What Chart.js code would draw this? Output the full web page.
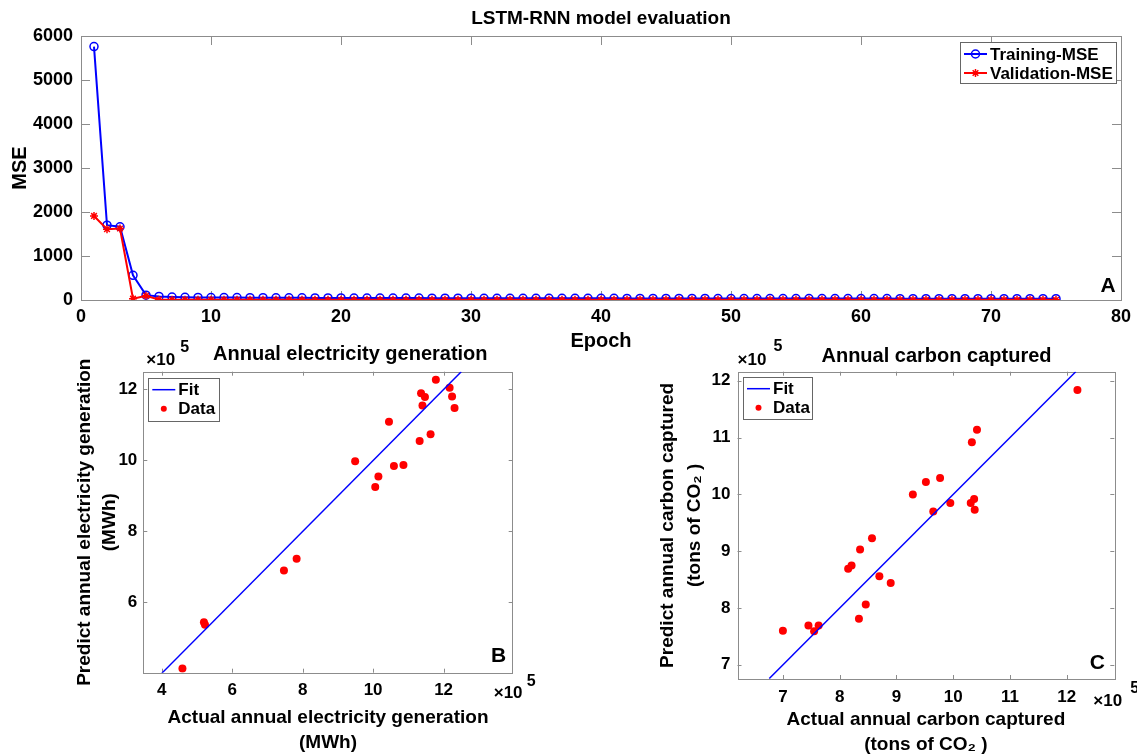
<!DOCTYPE html>
<html>
<head>
<meta charset="utf-8">
<title>LSTM-RNN model evaluation</title>
<script src="https://cdn.jsdelivr.net/npm/chart.js@4.4.1/dist/chart.umd.min.js"></script>
<style>
    body { margin: 0; background: #fff; overflow: hidden; }
    #wrap { position: relative; width: 1137px; height: 755px; }
    .panel { position: absolute; }
</style>
</head>
<body>
<div id="wrap">
    <div class="panel" style="left:0;top:0"><canvas id="lossChart" width="1137" height="360"></canvas></div>
    <div class="panel" style="left:40px;top:335px"><canvas id="elecChart" width="530" height="420"></canvas></div>
    <div class="panel" style="left:640px;top:335px"><canvas id="carbonChart" width="497" height="420"></canvas></div>
</div>
<script>
// panel A - loss per epoch
const trainMSE = [5760, 1700, 1665, 560, 110, 80, 68, 62, 59, 57, 55, 54, 53, 52, 51, 50, 49, 48, 47, 46,
    45, 45, 44, 44, 43, 43, 42, 42, 41, 41, 40, 40, 39, 39, 39, 38, 38, 38, 37, 37,
    37, 36, 36, 36, 35, 35, 35, 35, 34, 34, 34, 34, 33, 33, 33, 33, 33, 32, 32, 32,
    32, 32, 31, 31, 31, 31, 31, 30, 30, 30, 30, 30, 30, 29, 29];
const validMSE = [1910, 1610, 1625, 30, 95, 8, 6, 6, 5, 5, 5, 5, 5, 5, 5, 4, 4, 4, 4, 4,
    4, 4, 4, 4, 4, 4, 4, 4, 4, 4, 4, 4, 4, 4, 4, 4, 4, 4, 4, 4,
    4, 4, 4, 4, 4, 3, 3, 3, 3, 3, 3, 3, 3, 3, 3, 3, 3, 3, 3, 3,
    3, 3, 3, 3, 3, 3, 3, 3, 3, 3, 3, 3, 3, 3, 3];
const epochs = trainMSE.map((v, i) => i + 1);

// panel B - electricity (x10^5 MWh)
const elecActual = [4.59, 5.20, 5.23, 7.47, 7.83, 9.49, 10.06, 10.15, 10.45, 10.59, 10.86, 11.32, 11.40, 11.36, 11.47, 11.63, 11.78, 12.17, 12.24, 12.31];
const elecPredict = [4.14, 5.44, 5.37, 6.90, 7.23, 9.98, 9.25, 9.55, 11.09, 9.84, 9.87, 10.55, 11.55, 11.89, 11.79, 10.74, 12.27, 12.05, 11.80, 11.48];
const elecFitX = [4.0, 12.5];
const elecFitY = [4.0, 12.5];

// panel C - carbon (x10^5 tons CO2)
const carbonActual = [7.00, 7.45, 7.55, 7.63, 8.15, 8.21, 8.34, 8.36, 8.46, 8.57, 8.70, 8.90, 9.29, 9.52, 9.65, 9.77, 9.95, 10.31, 10.33, 10.37, 10.38, 10.42, 12.19];
const carbonPredict = [7.60, 7.69, 7.59, 7.69, 8.69, 8.75, 7.81, 9.03, 8.06, 9.23, 8.56, 8.44, 10.00, 10.22, 9.70, 10.29, 9.85, 9.85, 10.92, 9.92, 9.73, 11.14, 11.84];
const carbonFitX = [6.76, 12.16];
const carbonFitY = [6.76, 12.16];

const FONT = "'Liberation Sans', Arial, Helvetica, sans-serif";
Chart.defaults.font.family = FONT;
Chart.defaults.font.weight = 'bold';
Chart.defaults.color = '#000';

const toPoints = (xs, ys) => xs.map((x, i) => ({x: x, y: ys[i]}));

// ticks on every multiple of step inside the limits (limits themselves not labelled, like matlab)
const onStep = (step) => function (scale) {
    const ticks = [];
    for (let k = Math.ceil(scale.min / step - 1e-9); k * step <= scale.max + 1e-9; k++) {
        ticks.push({value: k * step});
    }
    scale.ticks = ticks;
};

// matlab style box with inner tick marks
const boxTicks = {
    id: 'boxTicks',
    beforeDatasetsDraw(chart, args, o) {
        const {ctx, chartArea: a, scales: {x, y}} = chart;
        const len = o.len || 5;
        ctx.save();
        ctx.strokeStyle = '#8c8c8c';
        ctx.lineWidth = 1;
        ctx.beginPath();
        x.ticks.forEach(t => {
            const px = Math.round(x.getPixelForValue(t.value)) + 0.5;
            ctx.moveTo(px, a.bottom); ctx.lineTo(px, a.bottom - len);
            ctx.moveTo(px, a.top); ctx.lineTo(px, a.top + len);
        });
        y.ticks.forEach(t => {
            const py = Math.round(y.getPixelForValue(t.value)) + 0.5;
            ctx.moveTo(a.left, py); ctx.lineTo(a.left + len, py);
            ctx.moveTo(a.right, py); ctx.lineTo(a.right - len, py);
        });
        ctx.stroke();
        ctx.strokeRect(Math.round(a.left) + 0.5, Math.round(a.top) + 0.5, Math.round(a.width), Math.round(a.height));
        ctx.restore();
    }
};

// legend in a box inside the axes
const boxLegend = {
    id: 'boxLegend',
    afterDraw(chart, args, o) {
        const {ctx, chartArea: a} = chart;
        const left = o.anchor === 'right' ? a.right - o.dx - o.w : a.left + o.dx;
        const top = a.top + o.dy;
        ctx.save();
        ctx.fillStyle = '#fff';
        ctx.fillRect(left, top, o.w, o.h);
        ctx.strokeStyle = '#666';
        ctx.lineWidth = 1;
        ctx.strokeRect(Math.round(left) + 0.5, Math.round(top) + 0.5, o.w, o.h);
        o.rows.forEach((idx, i) => {
            const ds = chart.data.datasets[idx];
            const ry = top + 12 + i * 19;
            const x0 = left + 4, x1 = left + 27;
            if (chart.config.type === 'line' || ds.showLine === true) {
                ctx.strokeStyle = ds.borderColor;
                ctx.lineWidth = ds.borderWidth;
                ctx.beginPath();
                ctx.moveTo(x0, ry); ctx.lineTo(x1, ry);
                ctx.stroke();
            }
            if ((ds.pointRadius ?? 3) > 0) {
                ctx.strokeStyle = ds.pointBorderColor || ds.borderColor;
                ctx.fillStyle = ds.pointBackgroundColor || ds.backgroundColor;
                ctx.lineWidth = ds.pointBorderWidth ?? 1;
                Chart.helpers.drawPoint(ctx, {
                    pointStyle: ds.pointStyle || 'circle',
                    radius: o.markerRadius || ds.pointRadius,
                    rotation: 0,
                    borderWidth: ds.pointBorderWidth ?? 1
                }, (x0 + x1) / 2, ry);
            }
            ctx.fillStyle = '#000';
            ctx.font = 'bold 17px ' + FONT;
            ctx.textAlign = 'left';
            ctx.textBaseline = 'middle';
            ctx.fillText(ds.label, left + 30, ry + 1);
        });
        ctx.restore();
    }
};

// free text: panel letters, exponents, titles of small panels
const notes = {
    id: 'notes',
    afterDraw(chart, args, o) {
        const {ctx, chartArea: a} = chart;
        ctx.save();
        ctx.fillStyle = '#000';
        ctx.textBaseline = 'middle';
        o.items.forEach(it => {
            ctx.font = 'bold ' + it.size + 'px ' + FONT;
            ctx.textAlign = it.align || 'center';
            ctx.fillText(it.text, a[it.ax] + it.dx, a[it.ay] + it.dy);
        });
        ctx.restore();
    }
};

const tickFont = (size) => ({size: size, weight: 'bold', family: FONT});

const lossChart = new Chart(document.getElementById('lossChart'), {
    type: 'line',
    data: {
        datasets: [{
                label: 'Training-MSE',
                data: toPoints(epochs, trainMSE),
                borderColor: '#0000ff',
                backgroundColor: '#0000ff',
                borderWidth: 2,
                tension: 0,
                pointStyle: 'circle',
                pointRadius: 4,
                pointBorderColor: '#0000ff',
                pointBackgroundColor: 'rgba(0,0,0,0)',
                pointBorderWidth: 1.5,
                order: 1
            },
            {
                label: 'Validation-MSE',
                data: toPoints(epochs, validMSE),
                borderColor: '#ff0000',
                backgroundColor: '#ff0000',
                borderWidth: 2,
                tension: 0,
                pointStyle: 'star',
                pointRadius: 4,
                pointBorderColor: '#ff0000',
                pointBackgroundColor: '#ff0000',
                pointBorderWidth: 1.5,
                order: 0
            }
        ]
    },
    options: {
        responsive: false,
        animation: false,
        layout: {
            padding: {left: 0, right: 13, top: 0, bottom: 0}
        },
        scales: {
            x: {
                type: 'linear',
                min: 0,
                max: 80,
                grid: {display: false, drawTicks: false},
                border: {display: false},
                ticks: {stepSize: 10, padding: 6, color: '#000', font: tickFont(18), autoSkip: false, maxRotation: 0},
                title: {display: true, text: 'Epoch', font: {size: 20, weight: 'bold', lineHeight: '24px'}, padding: {top: 0, bottom: 7}},
                afterFit: function (scale) { scale.height = 60; }
            },
            y: {
                min: 0,
                max: 6000,
                grid: {display: false, drawTicks: false},
                border: {display: false},
                ticks: {
                    stepSize: 1000, padding: 8, color: '#000', font: tickFont(18),
                    callback: function (value) {
                        return value;
                    }
                },
                title: {display: true, text: 'MSE', font: {size: 20, weight: 'bold', lineHeight: '24px'}, padding: {top: 8, bottom: 0}},
                afterFit: function (scale) { scale.width = 81; }
            }
        },
        plugins: {
            legend: {display: false},
            tooltip: {enabled: false},
            title: {
                display: true,
                fullSize: false,
                text: 'LSTM-RNN model evaluation',
                color: '#000',
                font: {size: 19, weight: 'bold', lineHeight: 1.2},
                padding: {top: 7, bottom: 6.2}
            },
            boxTicks: {len: 9},
            boxLegend: {anchor: 'right', dx: 5, dy: 6, w: 156, h: 41, rows: [0, 1]},
            notes: {items: [{text: 'A', size: 21, ax: 'right', dx: -13, ay: 'bottom', dy: -14}]}
        }
    },
    plugins: [boxTicks, boxLegend, notes]
});

const elecChart = new Chart(document.getElementById('elecChart'), {
    type: 'scatter',
    data: {
        datasets: [{
                label: 'Fit',
                data: toPoints(elecFitX, elecFitY),
                showLine: true,
                borderColor: '#0000ff',
                backgroundColor: '#0000ff',
                borderWidth: 1.5,
                pointRadius: 0
            },
            {
                label: 'Data',
                data: toPoints(elecActual, elecPredict),
                backgroundColor: '#ff0000',
                borderColor: '#ff0000',
                borderWidth: 0,
                pointRadius: 4,
                pointBorderWidth: 0
            }
        ]
    },
    options: {
        responsive: false,
        animation: false,
        layout: {
            padding: {left: 0, right: 57.3, top: 36.7, bottom: 0}
        },
        scales: {
            x: {
                type: 'linear',
                min: 3.48,
                max: 13.96,
                grid: {display: false, drawTicks: false},
                border: {display: false},
                ticks: {stepSize: 2, padding: 7, color: '#000', font: tickFont(17), autoSkip: false, maxRotation: 0},
                title: {display: true, text: ['Actual annual electricity generation', '(MWh)'], font: {size: 19, weight: 'bold', lineHeight: '25px'}, padding: {top: 0, bottom: 0}},
                afterBuildTicks: onStep(2),
                afterFit: function (scale) { scale.height = 82.3; }
            },
            y: {
                min: 4.02,
                max: 12.5,
                grid: {display: false, drawTicks: false},
                border: {display: false},
                ticks: {stepSize: 2, padding: 6, color: '#000', font: tickFont(17)},
                title: {display: true, text: ['Predict annual electricity generation', '(MWh)'], font: {size: 19, weight: 'bold', lineHeight: '25px'}, padding: {top: 32.5, bottom: 0}},
                afterBuildTicks: onStep(2),
                afterFit: function (scale) { scale.width = 103.3; }
            }
        },
        plugins: {
            legend: {display: false},
            tooltip: {enabled: false},
            boxTicks: {len: 4},
            boxLegend: {anchor: 'left', dx: 5, dy: 6, w: 71, h: 43, rows: [0, 1], markerRadius: 3},
            notes: {items: [
                {text: 'Annual electricity generation', size: 20, ax: 'left', dx: 207, ay: 'top', dy: -17},
                {text: '×10', size: 17, align: 'left', ax: 'left', dx: 3, ay: 'top', dy: -11},
                {text: '5', size: 16, align: 'left', ax: 'left', dx: 37, ay: 'top', dy: -24},
                {text: '×10', size: 17, align: 'left', ax: 'right', dx: -19, ay: 'bottom', dy: 21},
                {text: '5', size: 16, align: 'left', ax: 'right', dx: 14, ay: 'bottom', dy: 9},
                {text: 'B', size: 21, ax: 'right', dx: -14, ay: 'bottom', dy: -16}
            ]}
        }
    },
    plugins: [boxTicks, boxLegend, notes]
});

const carbonChart = new Chart(document.getElementById('carbonChart'), {
    type: 'scatter',
    data: {
        datasets: [{
                label: 'Fit',
                data: toPoints(carbonFitX, carbonFitY),
                showLine: true,
                borderColor: '#0000ff',
                backgroundColor: '#0000ff',
                borderWidth: 1.5,
                pointRadius: 0
            },
            {
                label: 'Data',
                data: toPoints(carbonActual, carbonPredict),
                backgroundColor: '#ff0000',
                borderColor: '#ff0000',
                borderWidth: 0,
                pointRadius: 4,
                pointBorderWidth: 0
            }
        ]
    },
    options: {
        responsive: false,
        animation: false,
        layout: {
            padding: {left: 0, right: 22.7, top: 36.7, bottom: 0}
        },
        scales: {
            x: {
                type: 'linear',
                min: 6.2,
                max: 12.84,
                grid: {display: false, drawTicks: false},
                border: {display: false},
                ticks: {stepSize: 1, padding: 8, color: '#000', font: tickFont(17), autoSkip: false, maxRotation: 0},
                title: {display: true, text: ['Actual annual carbon captured', '(tons of CO₂ )'], font: {size: 19, weight: 'bold', lineHeight: '25px'}, padding: {top: 0, bottom: -2.5}},
                afterBuildTicks: onStep(1),
                afterFit: function (scale) { scale.height = 76; }
            },
            y: {
                min: 6.75,
                max: 12.16,
                grid: {display: false, drawTicks: false},
                border: {display: false},
                ticks: {stepSize: 1, padding: 7, color: '#000', font: tickFont(17)},
                title: {display: true, text: ['Predict annual carbon captured', '(tons of CO₂ )'], font: {size: 19, weight: 'bold', lineHeight: '27px'}, padding: {top: 14.5, bottom: 0}},
                afterBuildTicks: onStep(1),
                afterFit: function (scale) { scale.width = 97.5; }
            }
        },
        plugins: {
            legend: {display: false},
            tooltip: {enabled: false},
            boxTicks: {len: 4},
            boxLegend: {anchor: 'left', dx: 5.5, dy: 5, w: 69, h: 42, rows: [0, 1], markerRadius: 3},
            notes: {items: [
                {text: 'Annual carbon captured', size: 20, ax: 'left', dx: 199, ay: 'top', dy: -15},
                {text: '×10', size: 17, align: 'left', ax: 'left', dx: 0, ay: 'top', dy: -11},
                {text: '5', size: 16, align: 'left', ax: 'left', dx: 36, ay: 'top', dy: -25},
                {text: '×10', size: 17, align: 'left', ax: 'right', dx: -21, ay: 'bottom', dy: 22},
                {text: '5', size: 16, align: 'left', ax: 'right', dx: 16, ay: 'bottom', dy: 10},
                {text: 'C', size: 21, ax: 'right', dx: -17, ay: 'bottom', dy: -16}
            ]}
        }
    },
    plugins: [boxTicks, boxLegend, notes]
});
</script>
</body>
</html>
